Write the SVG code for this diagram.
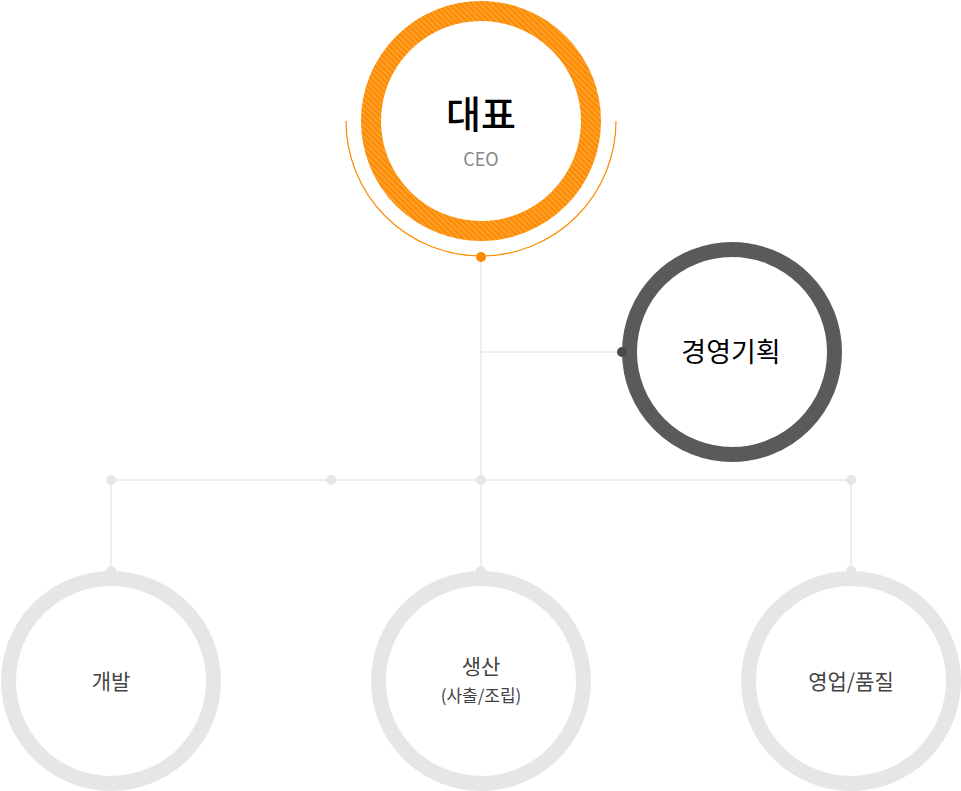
<svg xmlns="http://www.w3.org/2000/svg" width="961" height="791" viewBox="0 0 961 791">
<style>
.line{stroke:#dcdcdc;stroke-width:1;fill:none}
.dot{fill:#e5e6e8}
.ring{fill:none;stroke:#e5e6e8;stroke-width:15}
.lbl{font-family:"Noto Sans CJK KR","Noto Sans",sans-serif;text-anchor:middle}
</style>
<defs>
<pattern id="hatch" width="4" height="4" patternUnits="userSpaceOnUse" patternTransform="rotate(-45)">
<rect width="4" height="4" fill="#fb8c00"/>
<rect width="1.5" height="4" fill="#ffa43a"/>
</pattern>
</defs>
<g id="connectors">
<line class="line" x1="481" y1="257" x2="481" y2="571"/>
<line class="line" x1="481" y1="352" x2="622" y2="352"/>
<line class="line" x1="111" y1="480" x2="851" y2="480"/>
<line class="line" x1="111" y1="480" x2="111" y2="571"/>
<line class="line" x1="851" y1="480" x2="851" y2="571"/>
<circle class="dot" cx="111" cy="480" r="5"/>
<circle class="dot" cx="331" cy="480" r="5"/>
<circle class="dot" cx="481" cy="480" r="5"/>
<circle class="dot" cx="851" cy="480" r="5"/>
</g>
<g id="ceo">
<path d="M346,121 A135,135 0 0 0 616,121" fill="none" stroke="#fb8c00" stroke-width="1.2"/>
<circle cx="481" cy="121" r="110" fill="#fff" stroke="url(#hatch)" stroke-width="20"/>
<circle cx="481" cy="257" r="5" fill="#fb8c00"/>
<text class="lbl" x="481" y="128" font-size="38" font-weight="500" fill="#000">대표</text>
<text class="lbl" x="481" y="166" font-size="18" fill="#888">CEO</text>
</g>
<g id="planning">
<circle cx="732" cy="352" r="102.5" fill="#fff" stroke="#5a5a5a" stroke-width="15"/>
<circle cx="622" cy="352" r="5" fill="#4a4a4a"/>
<text class="lbl" x="731" y="362" font-size="27" fill="#000">경영기획</text>
</g>
<g id="dev">
<circle class="ring" cx="111" cy="681" r="102.5" fill="#fff"/>
<circle class="dot" cx="111" cy="571" r="5"/>
<text class="lbl" x="111" y="689" font-size="21" fill="#444">개발</text>
</g>
<g id="production">
<circle class="ring" cx="481" cy="681" r="102.5" fill="#fff"/>
<circle class="dot" cx="481" cy="571" r="5"/>
<text class="lbl" x="481" y="674" font-size="21" fill="#444">생산</text>
<text class="lbl" x="481" y="702" font-size="17" fill="#444">(사출/조립)</text>
</g>
<g id="sales">
<circle class="ring" cx="851" cy="681" r="102.5" fill="#fff"/>
<circle class="dot" cx="851" cy="571" r="5"/>
<text class="lbl" x="851" y="689" font-size="21" fill="#444">영업/품질</text>
</g>
</svg>
